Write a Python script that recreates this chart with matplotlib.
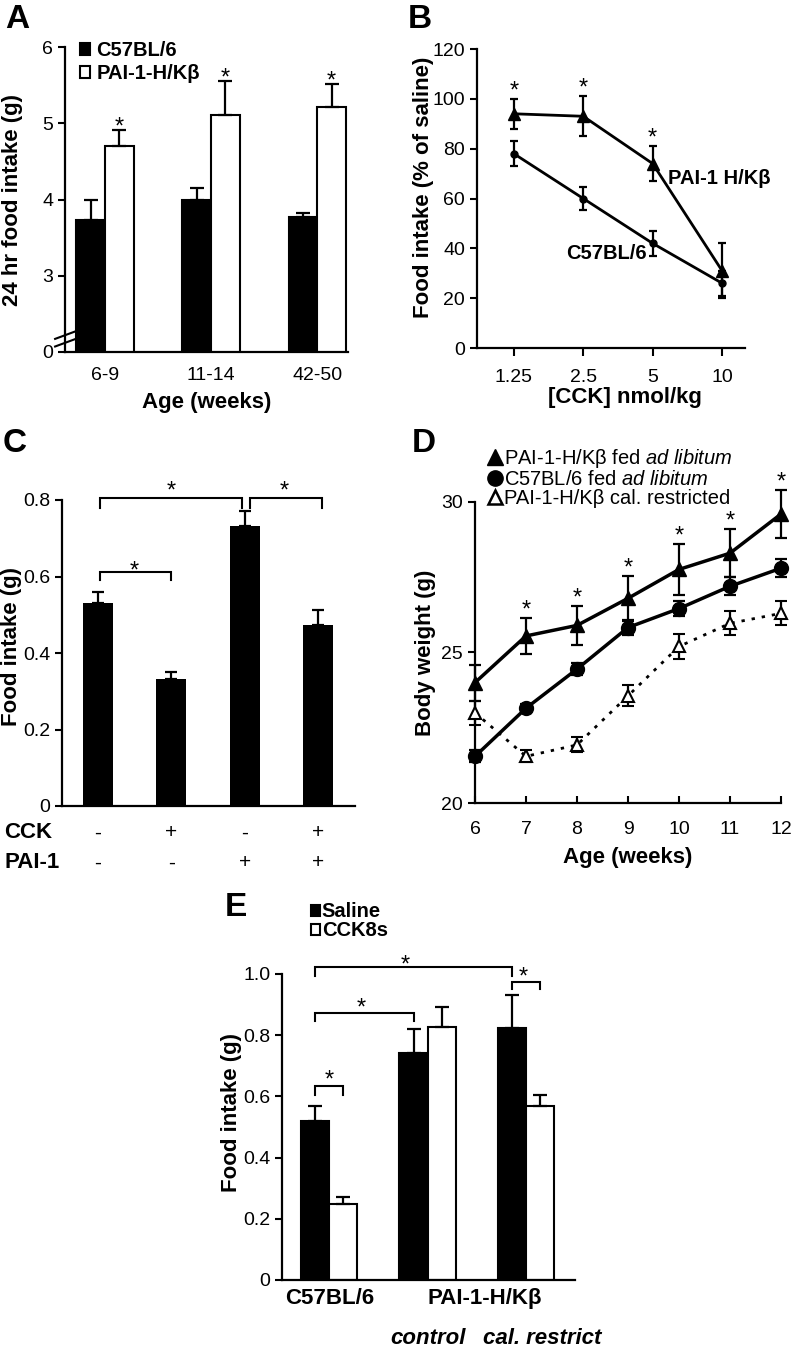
import numpy as np
import matplotlib.pyplot as plt
from matplotlib.lines import Line2D

plt.rcParams['font.family'] = ['Liberation Sans', 'DejaVu Sans']
plt.rcParams['mathtext.fontset'] = 'custom'
plt.rcParams['mathtext.rm'] = 'Liberation Sans'
plt.rcParams['mathtext.it'] = 'Liberation Sans:italic'
plt.rcParams['axes.linewidth'] = 1.6

# ---- panel A: 24 hr food intake
age_groups = ['6-9', '11-14', '42-50']
a_c57 = [3.73, 4.00, 3.77]
a_c57_err = [0.27, 0.15, 0.05]
a_pai = [4.70, 5.11, 5.21]
a_pai_err = [0.21, 0.44, 0.30]

# ---- panel B: CCK dose response (% of saline)
cck_dose = ['1.25', '2.5', '5', '10']
b_pai = [94, 93, 74, 31]
b_pai_err = [6, 8, 7, 11]
b_c57 = [78, 60, 42, 26]
b_c57_err = [5, 4.5, 5, 5]

# ---- panel C: food intake, CCK / PAI-1
c_cck = ['-', '+', '-', '+']
c_pai = ['-', '-', '+', '+']
c_vals = [0.531, 0.333, 0.732, 0.473]
c_err = [0.029, 0.018, 0.039, 0.039]

# ---- panel D: body weight
d_weeks = [6, 7, 8, 9, 10, 11, 12]
d_pai = [24.0, 25.55, 25.9, 26.8, 27.76, 28.3, 29.6]
d_pai_err = [0.6, 0.6, 0.65, 0.75, 0.85, 0.8, 0.8]
d_c57 = [21.55, 23.15, 24.45, 25.83, 26.46, 27.2, 27.8]
d_c57_err = [0.2, 0.15, 0.2, 0.25, 0.25, 0.3, 0.3]
d_cal = [23.0, 21.55, 21.93, 23.56, 25.2, 25.97, 26.3]
d_cal_err = [0.4, 0.2, 0.25, 0.35, 0.4, 0.4, 0.4]

# ---- panel E: saline vs CCK8s
e_groups = ['C57BL/6', 'control', 'cal. restrict']
e_saline = [0.52, 0.743, 0.825]
e_saline_err = [0.049, 0.076, 0.106]
e_cck = [0.248, 0.828, 0.569]
e_cck_err = [0.024, 0.065, 0.036]

W, H = 792, 1367
fig = plt.figure(figsize=(W / 100, H / 100), dpi=100)

STAR = 17


def box(x0, x1, ytop, ybot):
    return [x0 / W, 1 - ybot / H, (x1 - x0) / W, (ybot - ytop) / H]


def ftext(x, y, s, **kw):
    fig.text(x / W, 1 - y / H, s, **kw)


def star(ax, x, y, gap_px):
    # centre of the asterisk glyph is ~0.57 em above its baseline
    lift = 0.57 * STAR / 0.72
    ax.annotate('*', (x, y), xytext=(0, (gap_px - lift) * 0.72), textcoords='offset points',
                ha='center', va='baseline', fontsize=STAR, annotation_clip=False)


def bracket(ax, x1, x2, y, leg, star_x, gap_px):
    ax.plot([x1, x1, x2, x2], [y - leg, y, y, y - leg], color='black', lw=1.5,
            clip_on=False, solid_joinstyle='miter')
    star(ax, star_x, y, gap_px)


def style(ax):
    for s in ['top', 'right']:
        ax.spines[s].set_visible(False)
    ax.tick_params(labelsize=14, width=1.5, length=5)


bold = dict(fontsize=16, fontweight='bold')
letter = dict(fontsize=24, fontweight='bold', va='center', ha='left')

# ================= A =================
axA = fig.add_axes(box(65, 348, 47, 352))
style(axA)
x = np.arange(len(age_groups))
bw = 0.27
axA.bar(x - bw / 2, a_c57, bw, color='black', edgecolor='black', lw=1.5,
        yerr=[np.zeros(3), a_c57_err], error_kw=dict(lw=1.6, capsize=5, capthick=1.6),
        label='C57BL/6')
axA.bar(x + bw / 2, a_pai, bw, color='white', edgecolor='black', lw=1.5,
        yerr=[np.zeros(3), a_pai_err], error_kw=dict(lw=1.6, capsize=5, capthick=1.6),
        label='PAI-1-H/Kβ')
for i in range(3):
    star(axA, x[i] + bw / 2, a_pai[i] + a_pai_err[i], 10)
axA.set_ylim(2, 6)
axA.set_xlim(-0.377, 2.29)
axA.set_yticks([2, 3, 4, 5, 6])
axA.set_yticklabels(['0', '3', '4', '5', '6'])
axA.set_xticks(x)
axA.set_xticklabels(age_groups)
axA.tick_params(axis='x', length=0, pad=11)
# axis break marks
for yb in (0.03, 0.055):
    axA.plot([-0.035, 0.035], [yb - 0.012, yb + 0.012], transform=axA.transAxes,
             color='black', lw=1.5, clip_on=False)
axA.legend(loc='upper left', bbox_to_anchor=(0.025, 1.045), frameon=False,
           prop=dict(size=14.5, weight='bold'), handlelength=0.5, handleheight=0.55,
           handletextpad=0.3, labelspacing=0.2, borderaxespad=0)
ftext(13, 200, '24 hr food intake (g)', rotation=90, ha='center', va='center', **bold)
ftext(207, 402, 'Age (weeks)', ha='center', va='center', **bold)
ftext(5, 19, 'A', **letter)

# ================= B =================
axB = fig.add_axes(box(477, 745, 49, 348))
style(axB)
xb = np.arange(len(cck_dose))
axB.errorbar(xb, b_pai, yerr=b_pai_err, color='black', lw=2, marker='^', ms=8,
             capsize=3, capthick=1.6, elinewidth=1.6)
axB.errorbar(xb, b_c57, yerr=b_c57_err, color='black', lw=2, marker='o', ms=5,
             capsize=3, capthick=1.6, elinewidth=1.6)
for i in range(3):
    star(axB, xb[i], b_pai[i] + b_pai_err[i], 15)
axB.set_ylim(0, 120)
axB.set_yticks(range(0, 121, 20))
axB.set_xlim(-0.53, 3.33)
axB.set_xticks(xb)
axB.set_xticklabels(cck_dose)
axB.tick_params(axis='x', length=6, pad=9)
axB.text(2.22, 68, 'PAI-1 H/Kβ', fontsize=14.5, fontweight='bold', va='center')
axB.text(0.76, 38, 'C57BL/6', fontsize=14.5, fontweight='bold', va='center')
ftext(423, 187, 'Food intake (% of saline)', rotation=90, ha='center', va='center', **bold)
ftext(625, 398, '[CCK] nmol/kg', ha='center', va='center', **bold)
ftext(408, 19, 'B', **letter)

# ================= C =================
axC = fig.add_axes(box(62, 355, 500, 806))
style(axC)
xc = np.arange(len(c_vals))
axC.bar(xc, c_vals, 0.41, color='black', yerr=[np.zeros(4), c_err],
        error_kw=dict(lw=1.6, capsize=4, capthick=1.6))
axC.set_ylim(0, 0.8)
axC.set_yticks([0, 0.2, 0.4, 0.6, 0.8])
axC.set_yticklabels(['0', '0.2', '0.4', '0.6', '0.8'])
axC.set_xlim(-0.49, 3.5)
axC.set_xticks([])
bracket(axC, 0.03, 1.0, 0.613, 0.022, 0.5, 7)
bracket(axC, 0.03, 1.96, 0.804, 0.025, 1.0, 14)
bracket(axC, 2.07, 3.05, 0.804, 0.025, 2.54, 14)
for i in range(4):
    axC.text(xc[i], -0.088, c_cck[i], transform=axC.get_xaxis_transform(),
             ha='center', va='center', fontsize=15)
    axC.text(xc[i], -0.186, c_pai[i], transform=axC.get_xaxis_transform(),
             ha='center', va='center', fontsize=15)
ftext(4, 833, 'CCK', ha='left', va='center', **bold)
ftext(4, 863, 'PAI-1', ha='left', va='center', **bold)
ftext(12, 647, 'Food intake (g)', rotation=90, ha='center', va='center', **bold)
ftext(3, 443, 'C', **letter)

# ================= D =================
axD = fig.add_axes(box(475, 781, 502, 803))
style(axD)
axD.errorbar(d_weeks, d_pai, yerr=d_pai_err, color='black', lw=2.5, marker='^', ms=10,
             capsize=4, capthick=1.6, elinewidth=1.6, clip_on=False, zorder=3)
axD.errorbar(d_weeks, d_c57, yerr=d_c57_err, color='black', lw=2.5, marker='o', ms=10,
             capsize=4, capthick=1.6, elinewidth=1.6, clip_on=False, zorder=3)
axD.errorbar(d_weeks, d_cal, yerr=d_cal_err, color='black', lw=2, ls=(0, (1.2, 2.5)),
             marker='^', ms=9, mfc='white', mec='black', mew=1.5,
             capsize=4, capthick=1.6, elinewidth=1.6, clip_on=False, zorder=3)
for i in range(1, 7):
    star(axD, d_weeks[i], d_pai[i] + d_pai_err[i], 15)
axD.set_xlim(6, 12)
axD.set_ylim(20, 30)
axD.set_yticks([20, 25, 30])
axD.set_xticks(d_weeks)
axD.tick_params(axis='x', direction='in', length=5, pad=13)
handles = [
    Line2D([], [], ls='none', marker='^', ms=11, color='black'),
    Line2D([], [], ls='none', marker='o', ms=11, color='black'),
    Line2D([], [], ls='none', marker='^', ms=10, mfc='white', mec='black', mew=1.8),
]
labels = ['PAI-1-H/Kβ fed $\\it{ad\\ libitum}$', 'C57BL/6 fed $\\it{ad\\ libitum}$',
          'PAI-1-H/Kβ cal. restricted']
axD.legend(handles, labels, loc='upper left', bbox_to_anchor=(0.02, 1.21), frameon=False,
           fontsize=14.5, handlelength=0.6, handletextpad=0.15, labelspacing=0.0,
           borderaxespad=0)
ftext(425, 653, 'Body weight (g)', rotation=90, ha='center', va='center', **bold)
ftext(628, 858, 'Age (weeks)', ha='center', va='center', **bold)
ftext(412, 443, 'D', **letter)

# ================= E =================
axE = fig.add_axes(box(282, 575, 974, 1280))
style(axE)
xe = np.arange(len(e_groups))
ew = 0.285
axE.bar(xe - ew / 2, e_saline, ew, color='black', edgecolor='black', lw=1.5,
        yerr=[np.zeros(3), e_saline_err], error_kw=dict(lw=1.6, capsize=5, capthick=1.6),
        label='Saline')
axE.bar(xe + ew / 2, e_cck, ew, color='white', edgecolor='black', lw=1.5,
        yerr=[np.zeros(3), e_cck_err], error_kw=dict(lw=1.6, capsize=5, capthick=1.6),
        label='CCK8s')
axE.set_ylim(0, 1.0)
axE.set_yticks([0, 0.2, 0.4, 0.6, 0.8, 1.0])
axE.set_yticklabels(['0', '0.2', '0.4', '0.6', '0.8', '1.0'])
axE.set_xlim(-0.48, 2.5)
axE.set_xticks([])
bracket(axE, -ew / 2, ew / 2, 0.634, 0.029, 0.0, 13)
bracket(axE, -ew / 2, 1 - ew / 2, 0.874, 0.026, 0.33, 11)
bracket(axE, -ew / 2, 2 - ew / 2, 1.024, 0.029, 0.77, 9)
bracket(axE, 2 - ew / 2, 2 + ew / 2, 0.975, 0.025, 1.97, 12)
tr = axE.get_xaxis_transform()
axE.text(0, -0.059, 'C57BL/6', transform=tr, ha='center', va='center', **bold)
axE.text(1.58, -0.059, 'PAI-1-H/Kβ', transform=tr, ha='center', va='center', **bold)
axE.text(1.0, -0.19, e_groups[1], transform=tr, ha='center', va='center',
         fontsize=16, fontweight='bold', style='italic')
axE.text(2.17, -0.19, e_groups[2], transform=tr, ha='center', va='center',
         fontsize=16, fontweight='bold', style='italic')
axE.legend(loc='upper left', bbox_to_anchor=(0.07, 1.26), frameon=False,
           prop=dict(size=14.5, weight='bold'), handlelength=0.45, handleheight=0.5,
           handletextpad=0.1, labelspacing=0.0, borderaxespad=0)
ftext(231, 1113, 'Food intake (g)', rotation=90, ha='center', va='center', **bold)
ftext(225, 907, 'E', **letter)

fig.savefig('out.png', dpi=100)
